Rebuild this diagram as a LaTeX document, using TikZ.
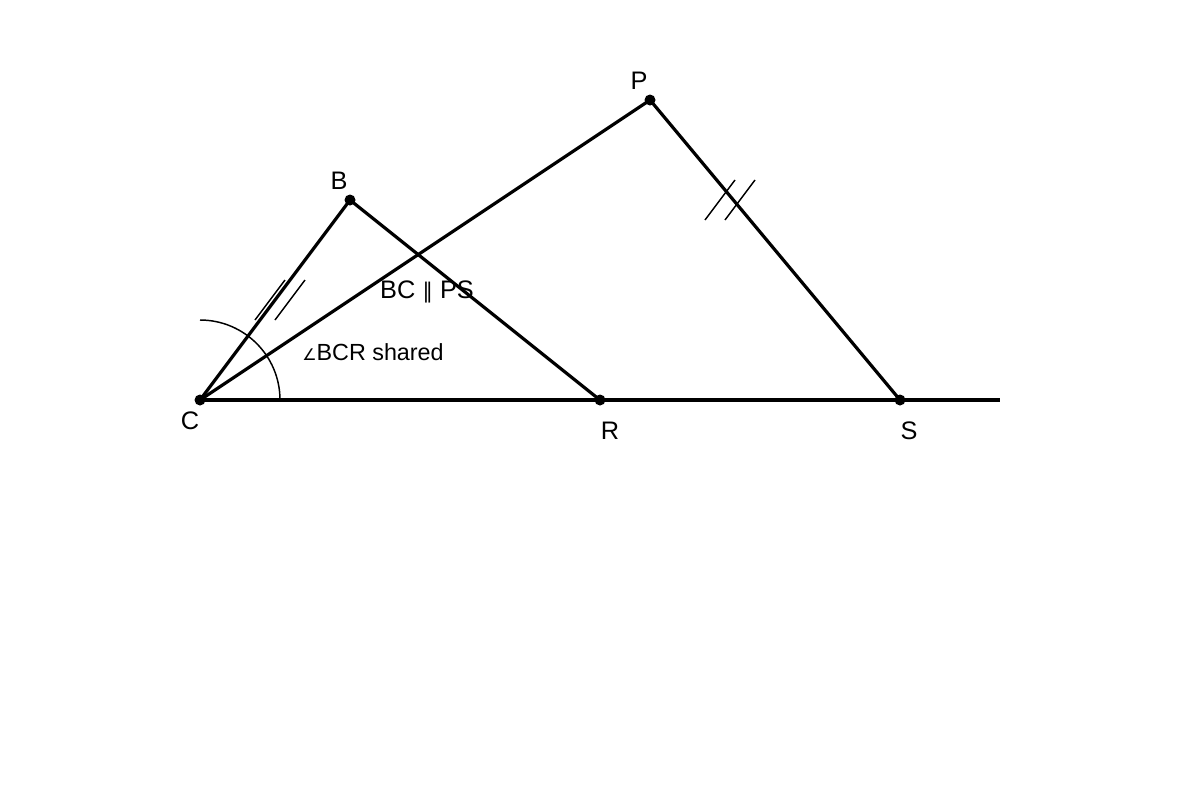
\documentclass[tikz,border=0pt]{standalone}
\usepackage{fontspec}
\setmainfont{Liberation Sans}
\newfontfamily\symbfont{DejaVu Sans}
\usepackage{tikz}

\begin{document}
\begin{tikzpicture}[x=0.75pt,y=0.75pt,yscale=-1,xscale=1]
\useasboundingbox (0,0) rectangle (1200,800);
\tikzset{side/.style={line width=2.4pt}, tick/.style={line width=1.1pt}, lbl/.style={inner sep=0.75pt, font=\fontsize{19}{21}\selectfont}}

%Points
\coordinate (C) at (200,400);
\coordinate (B) at (350,200);
\coordinate (P) at (650,100);
\coordinate (R) at (600,400);
\coordinate (S) at (900,400);
\coordinate (E) at (1000,400);

%Straight Lines
\draw [side] (C) -- (E) ;
\draw [side] (C) -- (B) -- (R) ;
\draw [side] (C) -- (P) -- (S) ;

%Tick marks
\draw [tick] (255,320) -- (285,280) ;
\draw [tick] (275,320) -- (305,280) ;
\draw [tick] (705,220) -- (735,180) ;
\draw [tick] (725,220) -- (755,180) ;

%Angle arc
\draw [line width=1.1pt] (280,400) arc (0:-90:80) ;

%Dots
\foreach \p in {C,B,P,R,S}
  \fill (\p) circle (5.5);

% Text Node
\node [lbl] (lC) at (190,421) {C};
\node [lbl] (lB) at (339,181) {B};
\node [lbl] (lP) at (639,81) {P};
\node [lbl] (lR) at (610,431) {R};
\node [lbl] (lS) at (909,431) {S};
\node [lbl] (par) at (427,292) {BC {\symbfont\fontsize{16}{18}\selectfont ∥} PS};
\node [inner sep=0.75pt, font=\fontsize{17.5}{19}\selectfont] (ang) at (373,352) {{\symbfont\fontsize{12}{14}\selectfont ∠}BCR shared};

\end{tikzpicture}
\end{document}
